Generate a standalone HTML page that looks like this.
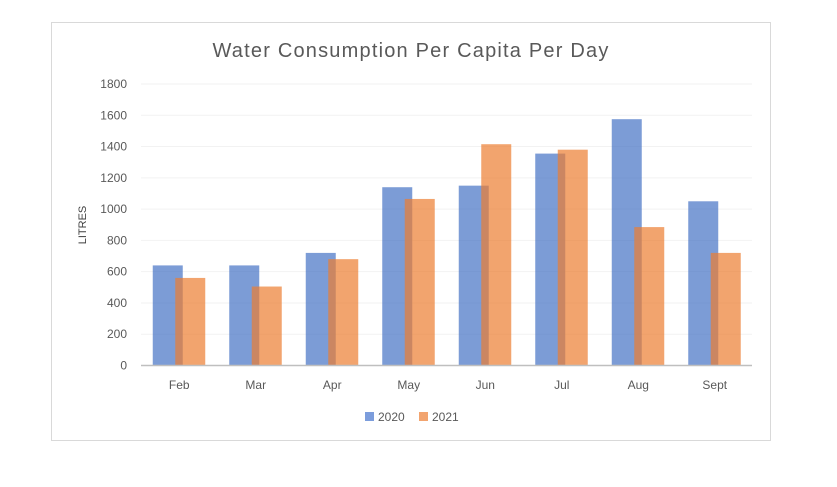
<!DOCTYPE html>
<html><head><meta charset="utf-8"><style>
body{margin:0;background:#fff;width:837px;height:482px;overflow:hidden;font-family:"Liberation Sans",sans-serif}
</style></head><body>
<svg width="837" height="482" xmlns="http://www.w3.org/2000/svg">
<rect x="51.5" y="22.5" width="719" height="418" fill="#fff" stroke="#d9d9d9"/>
<text x="411" y="57" text-anchor="middle" font-size="20" letter-spacing="1.2" fill="#595959">Water Consumption Per Capita Per Day</text>
<text transform="translate(86,225) rotate(-90)" text-anchor="middle" font-size="11" fill="#404040">LITRES</text>
<g id="grid"></g><g id="bars"></g><g id="axes"></g>
<g>
<rect x="365" y="412" width="9" height="9" fill="#7c9ddc"/>
<text x="378" y="421" font-size="12" fill="#595959">2020</text>
<rect x="419" y="412" width="9" height="9" fill="#f2a46f"/>
<text x="432" y="421" font-size="12" fill="#595959">2021</text>
</g>
</svg>
<script>
const categories=["Feb","Mar","Apr","May","Jun","Jul","Aug","Sept"];
const values2020=[640,640,720,1140,1150,1355,1575,1050];
const values2021=[560,505,680,1065,1415,1380,885,720];
const yTicks=[0,200,400,600,800,1000,1200,1400,1600,1800];
const NS="http://www.w3.org/2000/svg";
const x0=141,band=76.5,yBase=365.5,yTop=84,yMax=1800;
const y=v=>yBase-(v/yMax)*(yBase-yTop);
const xc=i=>x0+band*(i+0.5);
function mk(t,a,p){const e=document.createElementNS(NS,t);for(const k in a)e.setAttribute(k,a[k]);p.appendChild(e);return e;}
const grid=document.getElementById('grid'),bars=document.getElementById('bars'),axes=document.getElementById('axes');
yTicks.forEach(v=>{
  if(v>0){const l=mk('line',{x1:x0,x2:752,y1:y(v),y2:y(v),stroke:'#f2f2f2'},grid);
  
  }
  const t=mk('text',{x:127,y:y(v)+4,'text-anchor':'end','font-size':12,fill:'#595959'},axes);
  t.textContent=v;
  
  
});
categories.forEach((c,i)=>{
  const b1=mk('rect',{x:xc(i)-26.5,y:y(values2020[i]),width:30,height:yBase-y(values2020[i]),fill:'#4472c4','fill-opacity':0.7},bars);
  
  
  const b2=mk('rect',{x:xc(i)-4,y:y(values2021[i]),width:30,height:yBase-y(values2021[i]),fill:'#ed7d31','fill-opacity':0.7},bars);
  
  
  const t=mk('text',{x:xc(i),y:389,'text-anchor':'middle','font-size':12,fill:'#595959'},axes);
  t.textContent=c;
  
  
});
const ax=mk('line',{x1:x0,x2:752,y1:yBase,y2:yBase,stroke:'#bfbfbf','stroke-width':1.5},axes);


</script>
</body></html>
